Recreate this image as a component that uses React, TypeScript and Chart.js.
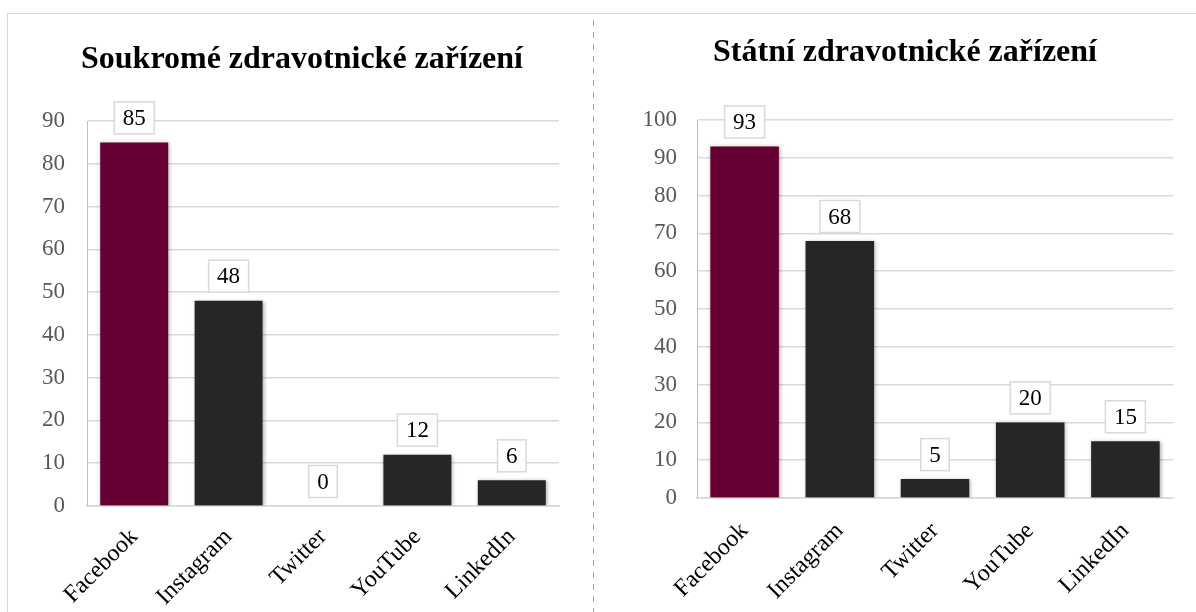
import React, { useEffect, useRef } from "react";
import { Chart, registerables } from "chart.js";

Chart.register(...registerables);

const categories = ["Facebook", "Instagram", "Twitter", "YouTube", "LinkedIn"];
const privateValues = [85, 48, 0, 12, 6];
const stateValues = [93, 68, 5, 20, 15];
const privateTitle = "Soukromé zdravotnické zařízení";
const stateTitle = "Státní zdravotnické zařízení";
const barColors = ["#660033", "#262626", "#262626", "#262626", "#262626"];
const privateMax = 90;
const stateMax = 100;
const tickStep = 10;

const FONT = "'Liberation Serif', 'Times New Roman', serif";

const valueBoxPlugin = {
  id: "valueBoxes",
  afterLayout(chart: any, _args: any, opts: any) {
    const tb = chart.titleBlock;
    const shift = (opts && opts.titleShift) || 0;
    if (tb) {
      tb.left += shift;
      tb.right += shift;
    }
  },
  beforeDatasetsDraw(chart: any) {
    const ctx = chart.ctx;
    ctx.save();
    ctx.shadowColor = "rgba(0,0,0,0.35)";
    ctx.shadowBlur = 4;
    ctx.shadowOffsetX = 1;
    ctx.shadowOffsetY = 1;
  },
  afterDatasetsDraw(chart: any) {
    const ctx = chart.ctx;
    ctx.restore();
    const meta = chart.getDatasetMeta(0);
    const data = chart.data.datasets[0].data;
    ctx.save();
    ctx.font = `23px ${FONT}`;
    ctx.textAlign = "center";
    ctx.textBaseline = "middle";
    meta.data.forEach((bar: any, i: number) => {
      const text = String(data[i]);
      const tw = ctx.measureText(text).width;
      const w = tw + 17;
      const h = 32;
      const cx = bar.x;
      const cy = bar.y - 24.5;
      ctx.fillStyle = "#ffffff";
      ctx.fillRect(cx - w / 2, cy - h / 2, w, h);
      ctx.strokeStyle = "#d9d9d9";
      ctx.lineWidth = 1.5;
      ctx.strokeRect(cx - w / 2, cy - h / 2, w, h);
      ctx.fillStyle = "#000000";
      ctx.fillText(text, cx, cy + 1);
    });
    ctx.restore();
  },
};

type Opts = {
  padL: number;
  padR: number;
  titleTop: number;
  titleBottom: number;
  titleShift: number;
  xHeight: number;
  xPad: number;
  yWidth: number;
  yPad: number;
};

function makeConfig(values: number[], title: string, max: number, o: Opts): any {
  return {
    type: "bar",
    data: {
      labels: categories,
      datasets: [
        {
          data: values,
          backgroundColor: barColors,
          borderWidth: 0,
          categoryPercentage: 0.8,
          barPercentage: 0.9,
        },
      ],
    },
    options: {
      responsive: false,
      animation: false,
      devicePixelRatio: 1,
      layout: { padding: { left: o.padL, right: o.padR, top: 0, bottom: 0 } },
      plugins: {
        legend: { display: false },
        tooltip: { enabled: false },
        valueBoxes: { titleShift: o.titleShift },
        title: {
          display: true,
          text: title,
          color: "#000000",
          font: { family: FONT, size: 32, weight: "bold" },
          padding: { top: o.titleTop, bottom: o.titleBottom },
        },
      },
      scales: {
        x: {
          grid: { display: false, drawTicks: false },
          border: { display: true, color: "#d9d9d9", width: 1.5 },
          ticks: {
            color: "#000000",
            font: { family: FONT, size: 24 },
            maxRotation: 45,
            minRotation: 45,
            padding: o.xPad,
          },
          afterFit: (s: any) => {
            s.height = o.xHeight;
          },
        },
        y: {
          min: 0,
          max,
          ticks: {
            stepSize: tickStep,
            color: "#595959",
            font: { family: FONT, size: 23 },
            padding: o.yPad,
          },
          grid: { color: "#d9d9d9", lineWidth: 1.5, drawTicks: false },
          border: { display: true, color: "#bfbfbf", width: 1 },
          afterFit: (s: any) => {
            s.width = o.yWidth;
          },
        },
      },
    },
    plugins: [valueBoxPlugin],
  };
}

function BarPanel(props: {
  values: number[];
  title: string;
  max: number;
  left: number;
  top: number;
  width: number;
  height: number;
  opts: Opts;
}) {
  const ref = useRef<HTMLCanvasElement | null>(null);
  useEffect(() => {
    if (!ref.current) return;
    const chart = new Chart(ref.current, makeConfig(props.values, props.title, props.max, props.opts));
    return () => chart.destroy();
  }, []);
  return (
    <canvas
      ref={ref}
      width={props.width}
      height={props.height}
      style={{
        position: "absolute",
        left: props.left,
        top: props.top,
        width: props.width,
        height: props.height,
      }}
    />
  );
}

export default function App() {
  return (
    <div
      style={{
        position: "fixed",
        left: 0,
        top: 0,
        width: 1196,
        height: 612,
        overflow: "hidden",
        background: "#ffffff",
      }}
    >
      <div
        style={{
          position: "absolute",
          left: 7,
          top: 13,
          width: 1196,
          height: 700,
          borderTop: "1.5px solid #d9d9d9",
          borderLeft: "1.5px solid #d9d9d9",
        }}
      />
      <div
        style={{
          position: "absolute",
          left: 593,
          top: 20,
          width: 1,
          height: 600,
          background: "repeating-linear-gradient(to bottom, #a6a6a6 0px, #a6a6a6 6px, transparent 6px, transparent 12px)",
        }}
      />
      <BarPanel
        values={privateValues}
        title={privateTitle}
        max={privateMax}
        left={8}
        top={14}
        width={580}
        height={598}
        opts={{ padL: 29, padR: 29, titleTop: 26.8, titleBottom: 41.8, titleShift: 4, xHeight: 106, xPad: 17, yWidth: 50, yPad: 22 }}
      />
      <BarPanel
        values={stateValues}
        title={stateTitle}
        max={stateMax}
        left={596}
        top={14}
        width={600}
        height={598}
        opts={{ padL: 35, padR: 23, titleTop: 19.3, titleBottom: 48.3, titleShift: 3, xHeight: 114, xPad: 19, yWidth: 66, yPad: 20 }}
      />
    </div>
  );
}
